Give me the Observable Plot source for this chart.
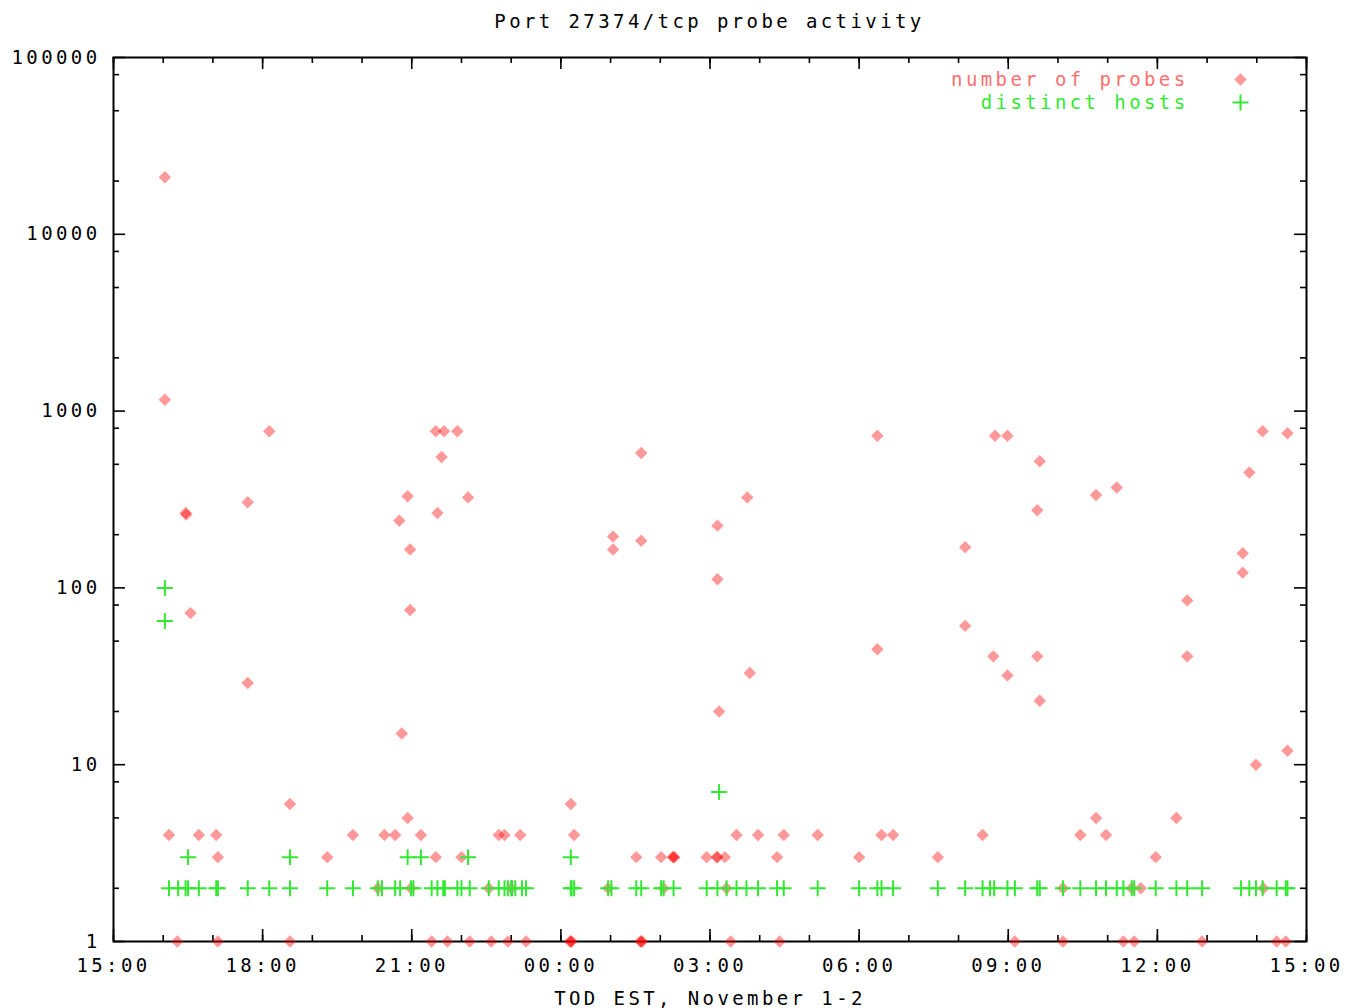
<!DOCTYPE html>
<html>
<head>
<meta charset="utf-8">
<script src="https://cdn.jsdelivr.net/npm/d3@7"></script>
<script src="https://cdn.jsdelivr.net/npm/@observablehq/plot@0.6"></script>
<style>
  body { margin: 0; background: #fff; }
  #title {
    margin-left: 113px; width: 1193px; height: 40px; line-height: 42px;
    text-align: center; font-family: "DejaVu Sans Mono", monospace;
    font-size: 19px; letter-spacing: 3.4px; color: #000;
  }
  #chart svg { display: block; }
</style>
</head>
<body>
<div id="title">Port 27374/tcp probe activity</div>
<div id="chart"></div>
<script>
// ---- data ----
const chartTitle = "Port 27374/tcp probe activity";
const xAxisLabel = "TOD EST, November 1-2";
const seriesNames = ["number of probes", "distinct hosts"];
const xTickLabels = ["15:00", "18:00", "21:00", "00:00", "03:00", "06:00", "09:00", "12:00", "15:00"];
const yTickValues = [1, 10, 100, 1000, 10000, 100000];

const probeTimes = ["16:02","16:02","16:07","16:17","16:27","16:28","16:33","16:43","17:04","17:06","17:06","17:42","17:42","18:08","18:33","18:33","19:18","19:49","20:19","20:27","20:40","20:45","20:48","20:55","20:55","20:58","20:58","20:59","21:11","21:24","21:29","21:29","21:31","21:36","21:39","21:43","21:55","22:00","22:08","22:10","22:33","22:36","22:45","22:52","22:56","23:00","23:11","23:18","00:11","00:12","00:13","00:12","00:16","00:57","01:03","01:03","01:31","01:36","01:37","01:38","01:37","01:37","02:01","02:04","02:15","02:16","02:17","02:56","03:08","03:09","03:09","03:09","03:11","03:18","03:20","03:25","03:32","03:45","03:48","03:58","04:21","04:24","04:29","05:10","06:00","06:22","06:22","06:27","06:41","07:35","08:08","08:08","08:29","08:42","08:44","08:59","08:59","09:08","09:35","09:35","09:38","09:38","10:06","10:06","10:27","10:46","10:46","10:58","11:11","11:19","11:29","11:32","11:40","11:58","12:23","12:36","12:36","12:54","13:43","13:43","13:51","13:59","14:07","14:08","14:24","14:35","14:37","14:37"];
const probeCounts = [21000,1160,4,1,265,260,72,4,4,3,1,305,29,770,6,1,3,4,2,4,4,240,15,330,5,165,75,2,4,1,770,3,265,550,770,1,770,3,325,1,2,1,4,4,1,2,4,1,1,1,1,6,4,2,195,165,3,1,1,1,580,185,3,2,3,3,3,3,3,3,225,112,20,3,2,1,4,325,33,4,3,1,4,4,3,725,45,4,4,3,170,61,4,41,725,725,32,1,275,41,520,23,2,1,4,5,335,4,370,1,2,1,2,3,5,85,41,1,157,122,450,10,770,2,1,1,750,12];

const hostTimes = ["16:02","16:02","16:07","16:18","16:27","16:30","16:30","16:43","17:04","17:06","17:42","18:08","18:33","18:33","19:18","19:49","20:19","20:24","20:40","20:46","20:55","20:59","21:02","21:11","21:24","21:31","21:38","21:40","21:55","22:00","22:08","22:10","22:33","22:45","22:52","22:56","23:00","23:01","23:05","23:13","23:18","00:12","00:12","00:13","00:16","00:57","01:01","01:31","01:37","02:01","02:04","02:16","02:56","03:09","03:11","03:20","03:32","03:44","03:58","04:21","04:29","05:10","06:00","06:22","06:27","06:41","07:35","08:08","08:29","08:38","08:43","08:59","09:08","09:35","09:38","10:06","10:27","10:46","10:58","11:11","11:19","11:29","11:32","11:58","12:23","12:36","12:54","13:41","13:51","13:59","14:07","14:24","14:35","14:37"];
const hostCounts = [100,65,2,2,2,2,3,2,2,2,2,2,2,3,2,2,2,2,2,2,3,2,2,3,2,2,2,2,2,2,3,2,2,2,2,2,2,2,2,2,2,3,2,2,2,2,2,2,2,2,2,2,2,2,7,2,2,2,2,2,2,2,2,2,2,2,2,2,2,2,2,2,2,2,2,2,2,2,2,2,2,2,2,2,2,2,2,2,2,2,2,2,2,2];

// ---- helpers ----
function dataDate(s) {
  const [h, m] = s.split(":").map(Number);
  return new Date(Date.UTC(2003, 10, h >= 15 ? 1 : 2, h, m));
}
function tickDates(labels) {
  let day = 1, prev = -1;
  return labels.map(s => {
    const [h, m] = s.split(":").map(Number);
    const t = h * 60 + m;
    if (t <= prev) day++;
    prev = t;
    return new Date(Date.UTC(2003, 10, day, h, m));
  });
}

const probes = probeTimes.map((t, i) => ({date: dataDate(t), value: probeCounts[i]}));
const hosts = hostTimes.map((t, i) => ({date: dataDate(t), value: hostCounts[i]}));
const xTicks = tickDates(xTickLabels);
const hourTicks = d3.utcHour.range(xTicks[0], new Date(+xTicks[xTicks.length - 1] + 1));
const yMinor = yTickValues.slice(0, -1).flatMap(d => [2, 5, 8].map(k => d * k));

const W = 1346, H = 968, mt = 17, mb = 67, ml = 113, mr = 40;
const pw = W - ml - mr, ph = H - mt - mb;
const red = "#ff0000", green = "#33e833";
const diamond = {symbol: "diamond2", r: 5.6, fill: red, fillOpacity: 0.4, stroke: "none"};
const plus = {symbol: "plus", r: 5.2, stroke: green, strokeWidth: 2};

const chart = Plot.plot({
  width: W, height: H,
  marginTop: mt, marginBottom: mb, marginLeft: ml, marginRight: mr,
  style: {fontFamily: "'DejaVu Sans Mono', monospace", fontSize: "19px", letterSpacing: "3.4px", color: "black", background: "white", overflow: "visible"},
  x: {type: "utc", domain: [xTicks[0], xTicks[xTicks.length - 1]]},
  y: {type: "log", domain: [1, 100000]},
  marks: [
    Plot.frame({stroke: "black", strokeWidth: 2}),
    Plot.axisX({ticks: xTicks, tickFormat: d3.utcFormat("%H:%M"), tickSize: 0, tickPadding: 17, label: null, fill: "black"}),
    Plot.axisY({ticks: yTickValues, tickFormat: d3.format("d"), tickSize: 0, tickPadding: 13, label: null, fill: "black"}),
    // inward tick marks, bottom/top
    Plot.tickX(hourTicks, {x: d => d, insetTop: ph - 6, stroke: "black", strokeWidth: 1.6}),
    Plot.tickX(hourTicks, {x: d => d, insetBottom: ph - 6, stroke: "black", strokeWidth: 1.6}),
    Plot.tickX(xTicks, {x: d => d, insetTop: ph - 12, stroke: "black", strokeWidth: 1.6}),
    Plot.tickX(xTicks, {x: d => d, insetBottom: ph - 12, stroke: "black", strokeWidth: 1.6}),
    // inward tick marks, left/right
    Plot.tickY(yMinor, {y: d => d, insetRight: pw - 6, stroke: "black", strokeWidth: 1.6}),
    Plot.tickY(yMinor, {y: d => d, insetLeft: pw - 6, stroke: "black", strokeWidth: 1.6}),
    Plot.tickY(yTickValues, {y: d => d, insetRight: pw - 12, stroke: "black", strokeWidth: 1.6}),
    Plot.tickY(yTickValues, {y: d => d, insetLeft: pw - 12, stroke: "black", strokeWidth: 1.6}),
    // data
    Plot.dot(probes, {x: "date", y: "value", ...diamond}),
    Plot.dot(hosts, {x: "date", y: "value", ...plus}),
    // legend
    Plot.text([seriesNames[0]], {text: d => d, frameAnchor: "top-right", dx: -118, dy: 22, textAnchor: "end", lineAnchor: "middle", fill: "#ff6f6f"}),
    Plot.dot([seriesNames[0]], {frameAnchor: "top-right", dx: -66, dy: 22, ...diamond}),
    Plot.text([seriesNames[1]], {text: d => d, frameAnchor: "top-right", dx: -118, dy: 45, textAnchor: "end", lineAnchor: "middle", fill: green}),
    Plot.dot([seriesNames[1]], {frameAnchor: "top-right", dx: -66, dy: 45, ...plus}),
    // x axis title
    Plot.text([xAxisLabel], {text: d => d, frameAnchor: "bottom", dy: 57, lineAnchor: "middle", fill: "black"})
  ]
});
document.getElementById("title").textContent = chartTitle;
document.getElementById("chart").appendChild(chart);
</script>
</body>
</html>
